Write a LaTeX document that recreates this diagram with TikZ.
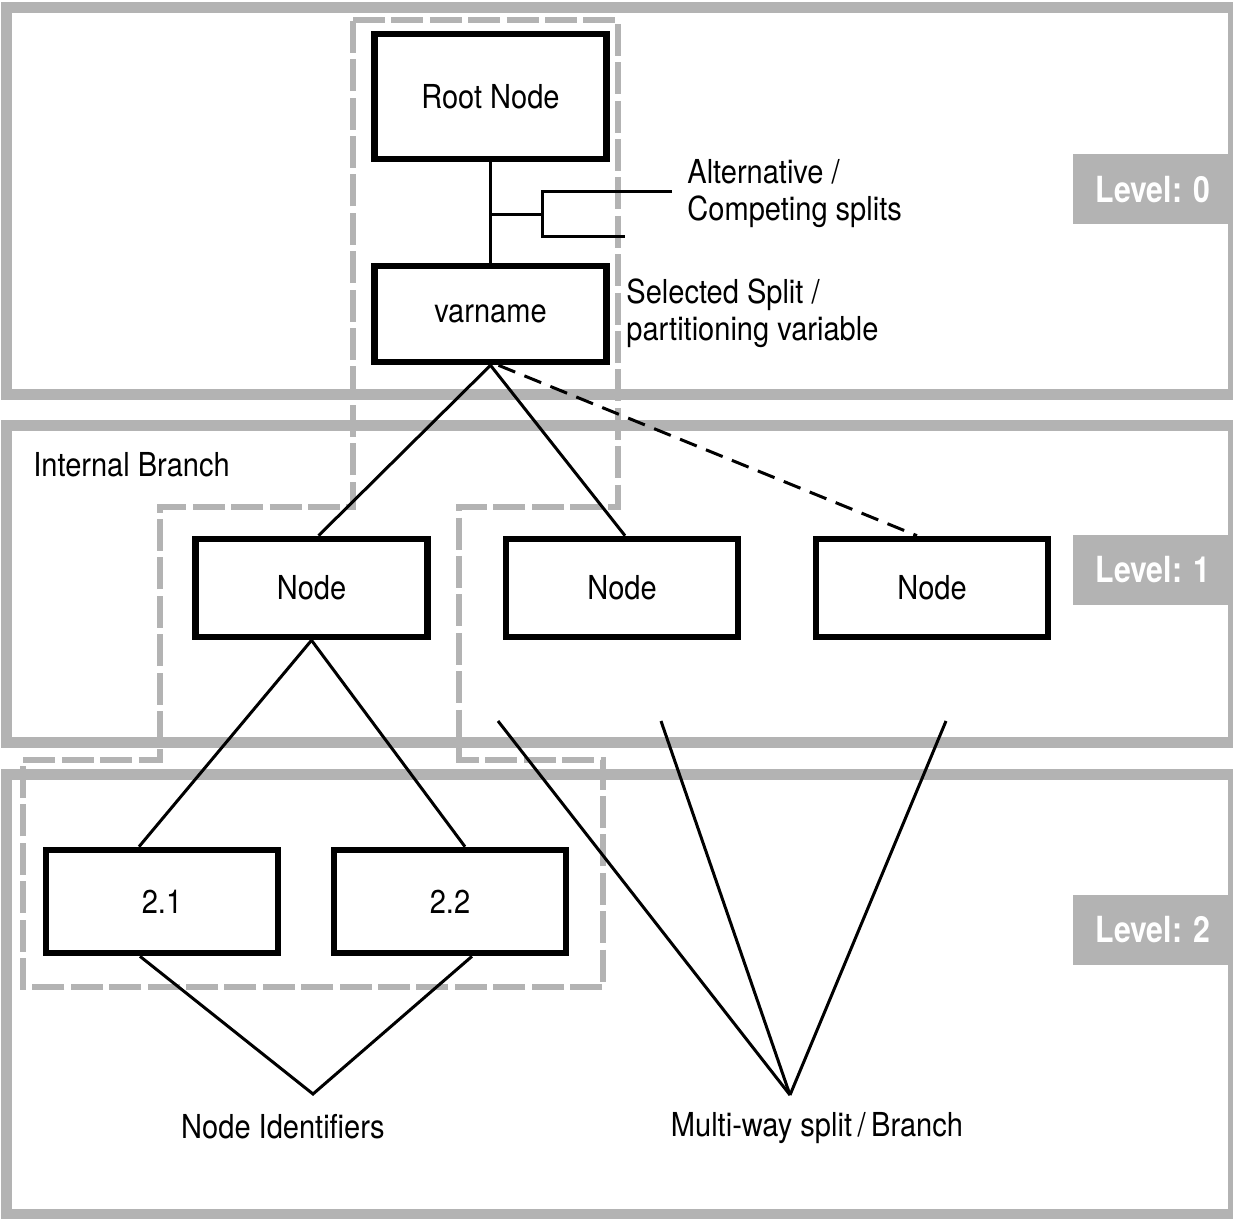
\documentclass[tikz,border=0pt]{standalone}
\usepackage{fontspec}
\setmainfont{TeX Gyre Heros}[FakeStretch=0.88]
\newfontfamily\levelfont{TeX Gyre Heros}[FakeStretch=0.84]
\definecolor{framegray}{HTML}{B3B3B3}

\begin{document}
\begin{tikzpicture}[x=0.5pt, y=-0.5pt,
    every node/.style={font=\fontsize{16.5}{18.5}\selectfont},
    levelframe/.style={draw=framegray, line width=5.5pt},
    levelbox/.style={fill=framegray, text=white, minimum width=80pt, minimum height=35pt,
        inner sep=0pt, font=\levelfont\bfseries\fontsize{18}{20}\selectfont},
    treebox/.style={draw, line width=3.3pt, fill=white, minimum width=116pt,
        minimum height=49pt, inner sep=0pt},
    tag/.style={inner sep=0pt, align=left},
    link/.style={line width=1.5pt},
    altlink/.style={link, dash pattern=on 9pt off 5pt},
    subtree/.style={draw=framegray, line width=3.2pt, dash pattern=on 16pt off 3.2pt}]

    \useasboundingbox (0,0) rectangle (1233,1219);

    % level bands
    \foreach \t/\b/\lv/\m in {7.5/395/0/189.5, 426/743/1/570, 775/1214/2/930}
    {
        \draw[levelframe] (6.5,\t) rectangle (1233,\b);
        \node[levelbox] (lvl\lv) at (1153,\m) {Level: \lv};
    }

    % highlighted subtree
    \draw[subtree] (353,20) -- (618,20) -- (618,507) -- (459,507) -- (459,760)
        -- (603,760) -- (603,987) -- (23,987) -- (23,760) -- (160,760)
        -- (160,507) -- (353,507) -- cycle;

    % tree nodes
    \node[treebox, minimum height=62.5pt] (root) at (490.5,96.5) {Root Node};
    \node[treebox, minimum height=48pt] (varname) at (490.5,314) {varname};
    \node[treebox] (n1) at (311.5,588) {Node};
    \node[treebox] (n2) at (622,588) {Node};
    \node[treebox] (n3) at (932,588) {Node};
    \node[treebox, minimum height=51.5pt] (n21) at (162,901.5) {2.1};
    \node[treebox, minimum height=51.5pt] (n22) at (450,901.5) {2.2};

    % competing splits
    \draw[link] (root) -- (varname);
    \coordinate (fork) at (490.5,215);
    \coordinate (brk) at (542,215);
    \coordinate (alttop) at (672,192);
    \coordinate (altbot) at (625,237);
    \draw[link] (fork) -- (brk);
    \draw[link] (alttop) -| (brk) |- (altbot);

    % branches
    \draw[link] (varname.south) -- ([xshift=3.5pt]n1.north);
    \draw[link] (varname.south) -- ([xshift=1.5pt]n2.north);
    \draw[altlink] ([xshift=4pt]varname.south) -- ([xshift=-7.5pt]n3.north);
    \draw[link] (n1.south) -- ([xshift=-11.5pt]n21.north);
    \draw[link] (n1.south) -- ([xshift=7.5pt]n22.north);

    % node identifiers
    \coordinate (idtip) at (313,1094);
    \draw[link] ([xshift=-11pt]n21.south) -- (idtip) -- ([xshift=11pt]n22.south);
    \node[tag] (nodeids) at (283,1127) {Node Identifiers};

    % multi-way split
    \coordinate (mwtip) at (790,1095);
    \foreach \x in {498,661,946}
        \draw[link] (\x,721) -- (mwtip);
    \node[tag] (multiway) at (817,1128.5) {Multi-way split\,/\,Branch};

    % annotations
    \node[tag, anchor=west] (altsplits) at (687,194) {Alternative /\\Competing splits};
    \node[tag, anchor=west] (selsplit) at (626,313) {Selected Split /\\partitioning variable};
    \node[tag, anchor=west] (intbranch) at (33,465) {Internal Branch};
\end{tikzpicture}
\end{document}
